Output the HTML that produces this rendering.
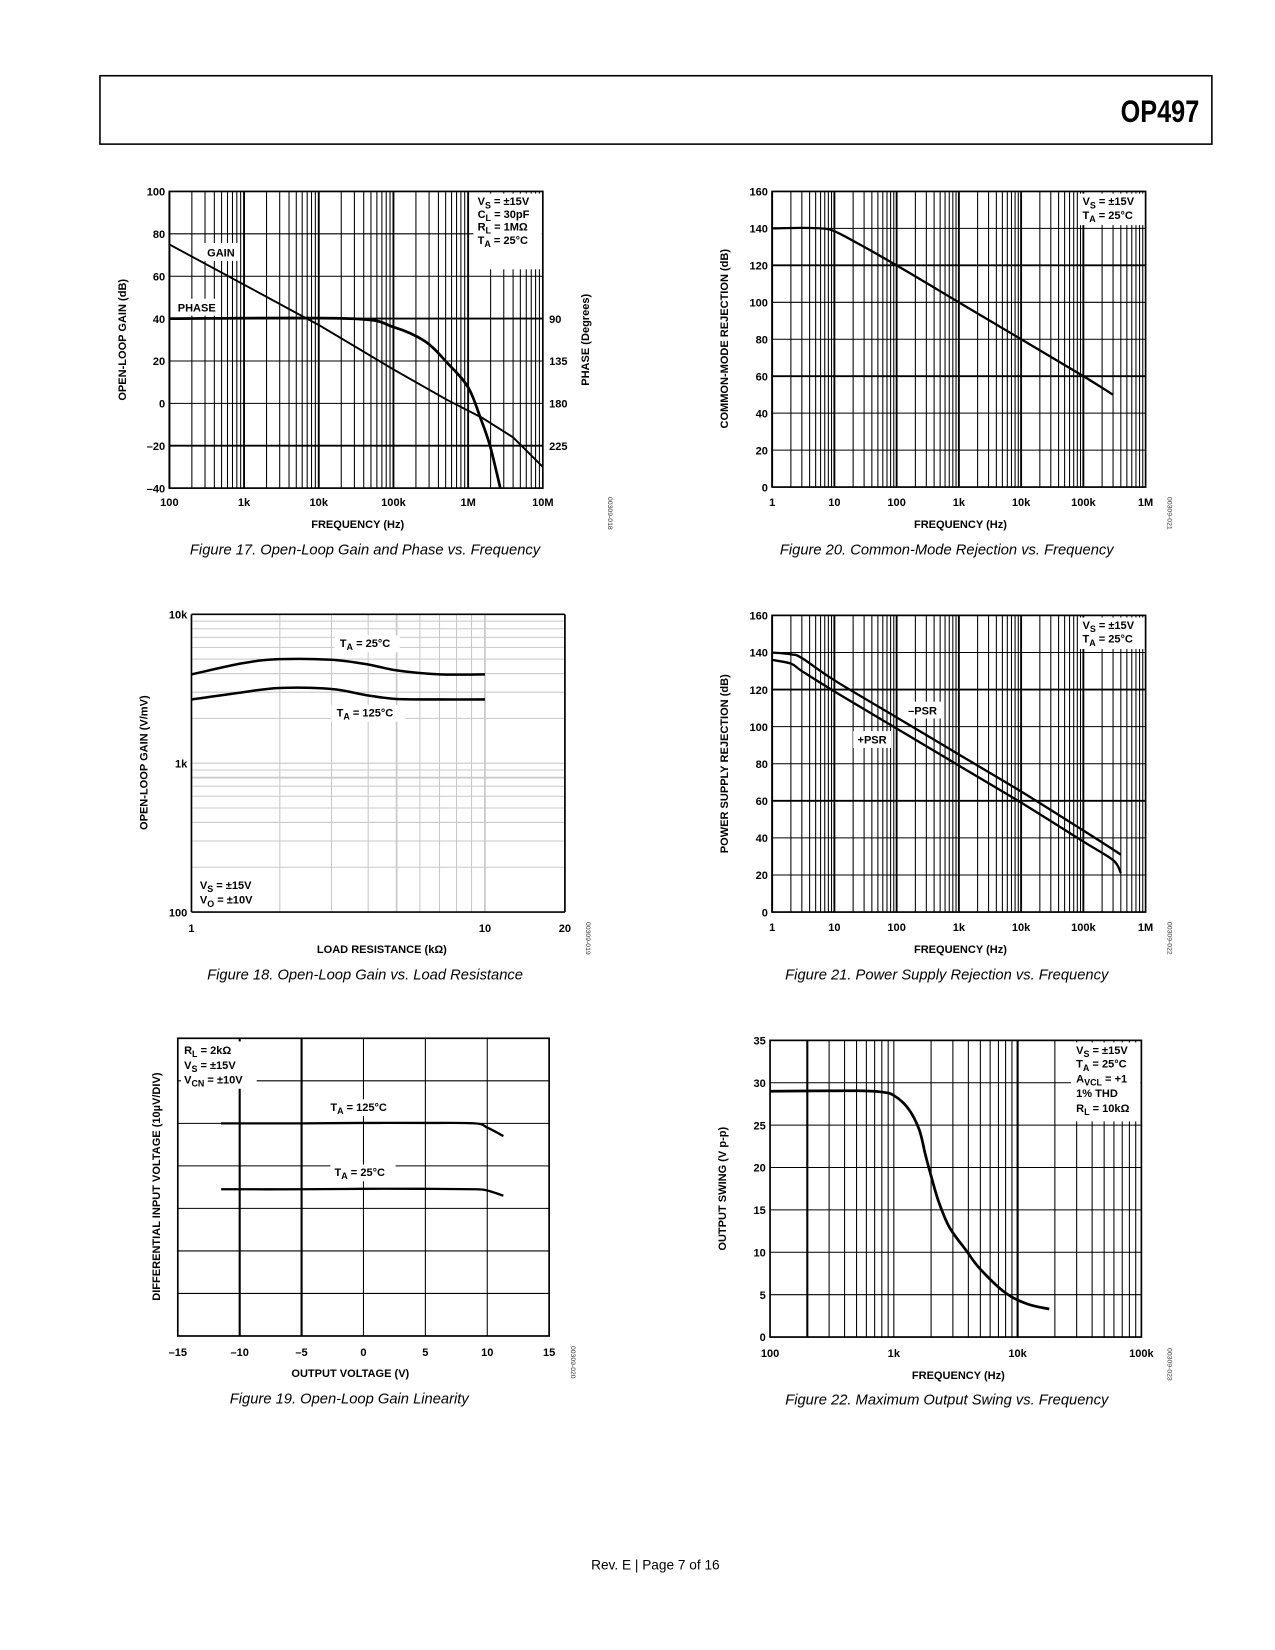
<!DOCTYPE html>
<html><head><meta charset="utf-8"><style>
html,body{margin:0;padding:0;background:#fff;}
svg{display:block;}
text{font-family:"Liberation Sans",Arial,sans-serif;}
.b{font-weight:bold;font-size:10.5px;}
.cap{font-style:italic;font-size:14px;}
</style></head><body>
<svg id="page" width="1275" height="1650" viewBox="0 0 1212 1568.5" xmlns="http://www.w3.org/2000/svg">
<rect x="95" y="72" width="1057" height="65" fill="none" stroke="#000" stroke-width="1.5"/>
<text x="1140" y="116" text-anchor="end" font-size="30" font-weight="bold" transform="scale(0.8,1) translate(285,0)">OP497</text>
<text x="623" y="1492" text-anchor="middle" font-size="13">Rev. E | Page 7 of 16</text>
</svg>
<script>
// ---------- DATA ----------
const f17Freq=[100,1e3,6.9e3,1e4,1e5,5.25e5,1.57e6,4e6,1e7];
const f17Gain=[75,56,40,37,16,1.6,-7,-16,-30];
const f17PhFreq=[100,2.6e4,1e5,2.63e5,5.25e5,1e6,1.5e6,1.96e6,2.7e6];
const f17Phase=[90,90,99,114,137,163,198,225,270];
const f17YTicks=[100,80,60,40,20,0,-20,-40];
const f17YLabels=['100','80','60','40','20','0','–20','–40'];
const f17XTicks=[100,1e3,1e4,1e5,1e6,1e7];
const f17XLabels=['100','1k','10k','100k','1M','10M'];
const f17PhTicks=[90,135,180,225];

const f18R=[1,1.5,2,3,4,5,7,10];
const f18G25=[3950,4700,5000,4950,4600,4200,3950,3950];
const f18G125=[2680,3000,3200,3150,2850,2700,2680,2680];
const f18XTicks=[1,10,20];
const f18XLabels=['1','10','20'];
const f18YTicks=[10000,1000,100];
const f18YLabels=['10k','1k','100'];

const f19V=[-11.5,-5,0,5,9,10,11.3];
const f19T125=[5.0,5.0,5.01,5.01,5.0,4.9,4.7];
const f19T25=[3.45,3.45,3.46,3.46,3.45,3.42,3.3];
const f19XTicks=[-15,-10,-5,0,5,10,15];
const f19XLabels=['–15','–10','–5','0','5','10','15'];

const f20Freq=[1,3,6,10,30,100,1e3,1e4,1e5,3e5];
const f20CMR=[140,140.3,140,138.5,130,120,100,80,60,50];
const f2021XTicks=[1,10,100,1e3,1e4,1e5,1e6];
const f2021XLabels=['1','10','100','1k','10k','100k','1M'];
const f2021YTicks=[0,20,40,60,80,100,120,140,160];

const f21Freq=[1,2,3,10,100,1e3,1e4,1e5,3e5,4e5];
const f21Plus=[136,134,130,119,99,79,59,38,28,21];
const f21MinusFreq=[1,2,3,10,100,1e3,1e4,1e5,4e5];
const f21Minus=[140,139,137,125,105,85,65,44,31];

const f22Freq=[100,500,800,1000,1300,1600,1800,2000,2300,2800,3800,5000,8000,12000,18000];
const f22Swing=[29,29.05,28.9,28.5,27,24.5,21.5,19,16,13,10.3,8,5.2,3.9,3.3];
const f22XTicks=[100,1e3,1e4,1e5];
const f22XLabels=['100','1k','10k','100k'];
const f22YTicks=[0,5,10,15,20,25,30,35];

// ---------- HELPERS ----------
const NS='http://www.w3.org/2000/svg';
const svg=document.getElementById('page');
function mk(tag,attrs,parent){const e=document.createElementNS(NS,tag);for(const k in attrs)e.setAttribute(k,attrs[k]);(parent||svg).appendChild(e);return e;}
function logS(x0,x1,v0,v1){return v=>x0+(Math.log10(v)-Math.log10(v0))/(Math.log10(v1)-Math.log10(v0))*(x1-x0);}
function linS(x0,x1,v0,v1){return v=>x0+(v-v0)/(v1-v0)*(x1-x0);}
function line(x1,y1,x2,y2,w,col,name){const e=mk('line',{x1,y1,x2,y2,stroke:col||'#000','stroke-width':w});


return e;}
function txt(x,y,s,cls,anchor,name){const e=mk('text',{x,y,class:cls||'b','text-anchor':anchor||'middle'});e.textContent=s;


return e;}
function subTxt(x,y,parts,anchor,name){
const e=mk('text',{x,y,class:'b','text-anchor':anchor||'start'});
parts.forEach(p=>{const t=mk('tspan',{},e);if(p[1]){t.setAttribute('font-size','8.5');t.setAttribute('dy','3');}else if(e.childNodes.length>1){t.setAttribute('dy','-3');}t.textContent=p[0];});


return e;}
function wrect(x,y,w,h,name){const e=mk('rect',{x,y,width:w,height:h,fill:'#fff'});


return e;}
function curve(xs,ys,sx,sy,w,name,smooth){
const P=xs.map((v,i)=>[sx(v),sy(ys[i])]);
let d='M'+P[0][0].toFixed(1)+','+P[0][1].toFixed(1);
for(let i=0;i<P.length-1;i++){
 if(!smooth){d+=' L'+P[i+1][0].toFixed(1)+','+P[i+1][1].toFixed(1);continue;}
 const p0=P[i-1]||P[i],p1=P[i],p2=P[i+1],p3=P[i+2]||P[i+1];
 const c1=[p1[0]+(p2[0]-p0[0])/6,p1[1]+(p2[1]-p0[1])/6];
 const c2=[p2[0]-(p3[0]-p1[0])/6,p2[1]-(p3[1]-p1[1])/6];
 d+=' C'+c1.map(n=>n.toFixed(1)).join(',')+' '+c2.map(n=>n.toFixed(1)).join(',')+' '+p2.map(n=>n.toFixed(1)).join(',');
}
const e=mk('path',{d,fill:'none',stroke:'#000','stroke-width':w||2.2,'stroke-linejoin':'round'});


return e;}
function box(x0,y0,x1,y1,name){const e=mk('rect',{x:x0,y:y0,width:x1-x0,height:y1-y0,fill:'none',stroke:'#000','stroke-width':1.6});

}
function logVGrid(sx,v0,v1,y0,y1,thick,thin,col){for(let d=v0;d<v1;d*=10){for(let m=1;m<10;m++){const v=d*m;const x=sx(v);if(m===1)line(x,y0,x,y1,thick,col,'major-gridline');else line(x,y0,x,y1,thin,col,'minor-gridline');}}}
function rotTxt(x,y,s,name,size,cls){const e=mk('text',{x,y,transform:`rotate(-90 ${x} ${y})`,'text-anchor':'middle',class:cls||'b'});if(size)e.setAttribute('font-size',size);e.textContent=s;

}
function rotId(x,y,s,name){const e=mk('text',{x,y,transform:`rotate(90 ${x} ${y})`,'text-anchor':'middle','font-size':'6.5',fill:'#333'});e.textContent=s;

}

// ---------- FIG 17 ----------
(function(){
const X0=161,X1=516,Y0=182,Y1=464;
const sx=logS(X0,X1,100,1e7), sy=linS(Y1,Y0,-40,100);
logVGrid(sx,100,1e7,Y0,Y1,1.8,1);
f17YTicks.forEach(v=>line(X0,sy(v),X1,sy(v),(v===40||v===-20)?1.8:1,'#000','gain-gridline'));
wrect(450,184,65,72,'legend-box');
subTxt(454,195,[['V'],['S',1],[' = ±15V']],'start','legend-vs');
subTxt(454,207,[['C'],['L',1],[' = 30pF']],'start','legend-cl');
subTxt(454,219,[['R'],['L',1],[' = 1MΩ']],'start','legend-rl');
subTxt(454,232,[['T'],['A',1],[' = 25°C']],'start','legend-ta');
wrect(192,231,36,17,'gain-label-bg');
txt(210,244,'GAIN','b','middle','gain-label');
wrect(164,284,46,16,'phase-label-bg');
txt(187,296,'PHASE','b','middle','phase-label');
curve(f17Freq,f17Gain,sx,sy,1.8,'gain-curve',false);
const sp=v=>sy(40-(v-90)*20/45);
curve(f17PhFreq,f17Phase,sx,sp,2.6,'phase-curve',true);
box(X0,Y0,X1,Y1,'plot-frame');
f17YTicks.forEach((v,i)=>txt(157,sy(v)+4,f17YLabels[i],'b','end','y-tick-label'));
f17XTicks.forEach((v,i)=>txt(sx(v),481,f17XLabels[i],'b','middle','x-tick-label'));
f17PhTicks.forEach(v=>txt(522,sp(v)+4,String(v),'b','start','phase-tick-label'));
txt(340,502,'FREQUENCY (Hz)','b','middle','x-axis-title');
rotTxt(120,323,'OPEN-LOOP GAIN (dB)','y-axis-title');
rotTxt(560,323,'PHASE (Degrees)','phase-axis-title');
txt(347,527,'Figure 17. Open-Loop Gain and Phase vs. Frequency','cap','middle','figure-17-caption');
rotId(578,488,'00309-018','figure-17-id');
})();

// ---------- FIG 20 ----------
(function(){
const X0=734,X1=1089,Y0=182,Y1=463;
const sx=logS(X0,X1,1,1e6), sy=linS(Y1,Y0,0,160);
logVGrid(sx,1,1e6,Y0,Y1,1.8,1);
f2021YTicks.forEach(v=>line(X0,sy(v),X1,sy(v),(v===60||v===120)?1.8:1,'#000','cmr-gridline'));
wrect(1026,184,62,30,'legend-box');
subTxt(1029,195,[['V'],['S',1],[' = ±15V']],'start','legend-vs');
subTxt(1029,208,[['T'],['A',1],[' = 25°C']],'start','legend-ta');
curve(f20Freq,f20CMR,sx,sy,2.2,'cmr-curve',true);
box(X0,Y0,X1,Y1,'plot-frame');
f2021YTicks.forEach(v=>txt(730,sy(v)+4,String(v),'b','end','y-tick-label'));
f2021XTicks.forEach((v,i)=>txt(sx(v),481,f2021XLabels[i],'b','middle','x-tick-label'));
txt(913,502,'FREQUENCY (Hz)','b','middle','x-axis-title');
rotTxt(692,322,'COMMON-MODE REJECTION (dB)','y-axis-title');
txt(900,527,'Figure 20. Common-Mode Rejection vs. Frequency','cap','middle','figure-20-caption');
rotId(1110,488,'00309-021','figure-20-id');
})();

// ---------- FIG 18 ----------
(function(){
const X0=182,X1=537,Y0=584,Y1=867;
const sx=logS(X0,461,1,10), sy=logS(Y1,Y0,100,10000);
[2,3,4,5,6,7,8,9,10].forEach(v=>line(sx(v),Y0,sx(v),Y1,(v===5||v===10)?1.6:1,'#c8c8c8','vertical-gridline'));
[200,300,400,500,600,700,800,900,2000,3000,4000,5000,6000,7000,8000,9000].forEach(v=>line(X0,sy(v),X1,sy(v),v===800?1.6:1,'#c8c8c8','horizontal-gridline'));
line(X0,sy(1000),X1,sy(1000),1,'#c8c8c8','horizontal-gridline');
wrect(318,604,62,16,'label-25-bg');
subTxt(323,615,[['T'],['A',1],[' = 25°C']],'start','label-25c');
wrect(315,670,70,16,'label-125-bg');
subTxt(320,681,[['T'],['A',1],[' = 125°C']],'start','label-125c');
curve(f18R,f18G25,sx,sy,2.4,'curve-25c',true);
curve(f18R,f18G125,sx,sy,2.4,'curve-125c',true);
line(X0,Y0,X1,Y0,1.6,'#000','top-frame');
line(X0,Y0,X0,Y1,1.6,'#000','left-frame');
line(X0,Y1,X1,Y1,1.6,'#000','bottom-frame');
line(X1,Y0,X1,Y1,1.6,'#000','right-frame');
subTxt(190,845,[['V'],['S',1],[' = ±15V']],'start','legend-vs');
subTxt(190,859,[['V'],['O',1],[' = ±10V']],'start','legend-vo');
f18YTicks.forEach((v,i)=>txt(178,sy(v)+4,f18YLabels[i],'b','end','y-tick-label'));
const sxl=v=>v===20?X1:sx(v);
f18XTicks.forEach((v,i)=>txt(sxl(v),886,f18XLabels[i],'b','middle','x-tick-label'));
txt(363,906,'LOAD RESISTANCE (kΩ)','b','middle','x-axis-title');
rotTxt(140,725,'OPEN-LOOP GAIN (V/mV)','y-axis-title');
txt(347,931,'Figure 18. Open-Loop Gain vs. Load Resistance','cap','middle','figure-18-caption');
rotId(557,892,'00309-019','figure-18-id');
})();

// ---------- FIG 21 ----------
(function(){
const X0=734,X1=1089,Y0=585,Y1=867;
const sx=logS(X0,X1,1,1e6), sy=linS(Y1,Y0,0,160);
logVGrid(sx,1,1e6,Y0,Y1,1.8,1);
f2021YTicks.forEach(v=>line(X0,sy(v),X1,sy(v),(v===60||v===120)?1.8:1,'#000','psr-gridline'));
wrect(1026,587,62,30,'legend-box');
subTxt(1029,598,[['V'],['S',1],[' = ±15V']],'start','legend-vs');
subTxt(1029,611,[['T'],['A',1],[' = 25°C']],'start','legend-ta');
wrect(858,667,38,16,'minus-psr-label-bg');
txt(877,679,'–PSR','b','middle','minus-psr-label');
wrect(811,695,36,16,'plus-psr-label-bg');
txt(829,707,'+PSR','b','middle','plus-psr-label');
curve(f21Freq,f21Plus,sx,sy,2.2,'plus-psr-curve',true);
curve(f21MinusFreq,f21Minus,sx,sy,2.2,'minus-psr-curve',true);
box(X0,Y0,X1,Y1,'plot-frame');
f2021YTicks.forEach(v=>txt(730,sy(v)+4,String(v),'b','end','y-tick-label'));
f2021XTicks.forEach((v,i)=>txt(sx(v),885,f2021XLabels[i],'b','middle','x-tick-label'));
txt(913,906,'FREQUENCY (Hz)','b','middle','x-axis-title');
rotTxt(692,726,'POWER SUPPLY REJECTION (dB)','y-axis-title');
txt(900,931,'Figure 21. Power Supply Rejection vs. Frequency','cap','middle','figure-21-caption');
rotId(1110,892,'00309-022','figure-21-id');
})();

// ---------- FIG 19 ----------
(function(){
const X0=169,X1=522,Y0=987,Y1=1270;
const sx=linS(X0,X1,-15,15), sy=linS(Y1,Y0,0,7);
f19XTicks.forEach(v=>line(sx(v),Y0,sx(v),Y1,(v===-10||v===-5)?2:1,'#000','vertical-gridline'));
[1,2,3,4,5,6].forEach(v=>line(X0,sy(v),X1,sy(v),1,'#000','horizontal-gridline'));
wrect(172,990,72,45,'legend-bg');
subTxt(175,1002,[['R'],['L',1],[' = 2kΩ']],'start','legend-rl');
subTxt(175,1016,[['V'],['S',1],[' = ±15V']],'start','legend-vs');
subTxt(175,1030,[['V'],['CN',1],[' = ±10V']],'start','legend-vcn');
wrect(310,1045,72,16,'label-125-bg');
subTxt(314,1056,[['T'],['A',1],[' = 125°C']],'start','label-125c');
wrect(314,1107,62,16,'label-25-bg');
subTxt(318,1118,[['T'],['A',1],[' = 25°C']],'start','label-25c');
curve(f19V,f19T125,sx,sy,2.2,'curve-125c',true);
curve(f19V,f19T25,sx,sy,2.2,'curve-25c',true);
box(X0,Y0,X1,Y1,'plot-frame');
f19XTicks.forEach((v,i)=>txt(sx(v),1289,f19XLabels[i],'b','middle','x-tick-label'));
txt(333,1309,'OUTPUT VOLTAGE (V)','b','middle','x-axis-title');
rotTxt(152,1128,'DIFFERENTIAL INPUT VOLTAGE (10µV/DIV)','y-axis-title');
txt(332,1334,'Figure 19. Open-Loop Gain Linearity','cap','middle','figure-19-caption');
rotId(543,1295,'00309-020','figure-19-id');
})();

// ---------- FIG 22 ----------
(function(){
const X0=732,X1=1085,Y0=989,Y1=1271;
const sx=logS(X0,X1,100,1e5), sy=linS(Y1,Y0,0,35);
for(let d=100;d<1e5;d*=10){for(let m=1;m<10;m++){const v=d*m;line(sx(v),Y0,sx(v),Y1,(v===200||v===1e4)?2:1,'#000','vertical-gridline');}}
f22YTicks.forEach(v=>line(X0,sy(v),X1,sy(v),1,'#000','horizontal-gridline'));
wrect(1018,991,66,75,'legend-box');
subTxt(1023,1002,[['V'],['S',1],[' = ±15V']],'start','legend-vs');
subTxt(1023,1015,[['T'],['A',1],[' = 25°C']],'start','legend-ta');
subTxt(1023,1029,[['A'],['VCL',1],[' = +1']],'start','legend-avcl');
txt(1023,1043,'1% THD','b','start','legend-thd');
subTxt(1023,1057,[['R'],['L',1],[' = 10kΩ']],'start','legend-rl');
curve(f22Freq,f22Swing,sx,sy,2.6,'output-swing-curve',true);
box(X0,Y0,X1,Y1,'plot-frame');
f22YTicks.forEach(v=>txt(728,sy(v)+4,String(v),'b','end','y-tick-label'));
f22XTicks.forEach((v,i)=>txt(sx(v),1290,f22XLabels[i],'b','middle','x-tick-label'));
txt(911,1311,'FREQUENCY (Hz)','b','middle','x-axis-title');
rotTxt(690,1130,'OUTPUT SWING (V p-p)','y-axis-title');
txt(900,1335,'Figure 22. Maximum Output Swing vs. Frequency','cap','middle','figure-22-caption');
rotId(1110,1297,'00309-023','figure-22-id');
})();
</script>
</body></html>
